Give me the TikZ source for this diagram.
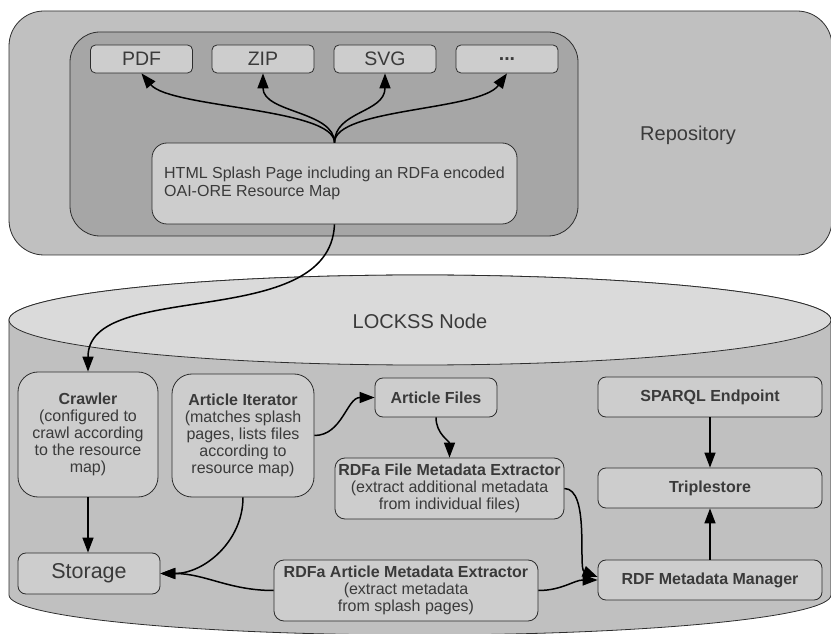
\documentclass[tikz,border=0pt]{standalone}
\usepackage{fontspec}
\setmainfont{Liberation Sans}
\usetikzlibrary{arrows.meta, positioning, calc}
\definecolor{repogray}{RGB}{192,192,192}
\definecolor{innergray}{RGB}{166,166,166}
\definecolor{boxgray}{RGB}{205,205,205}
\definecolor{lidgray}{RGB}{218,218,218}
\definecolor{edgegray}{RGB}{45,45,45}
\definecolor{textgray}{RGB}{58,58,58}
\tikzset{
  comp/.style={draw=edgegray, fill=boxgray, line width=0.8pt, rounded corners=8pt, align=center,
    text=textgray, inner sep=0pt, font=\fontsize{16}{17}\selectfont},
  fmt/.style={comp, rounded corners=5pt, minimum width=102pt, minimum height=28pt,
    font=\fontsize{19.5}{21}\selectfont},
  shell/.style={draw=edgegray, line width=0.8pt},
  flow/.style={line width=1.5pt, -{Triangle[length=15pt,width=11pt]}},
  title/.style={text=textgray, font=\fontsize{20}{22}\selectfont}
}

\begin{document}
\begin{tikzpicture}[x=1pt, y=1pt]
  \useasboundingbox (0,0) rectangle (831,633);

  % repository
  \draw[shell, fill=repogray, rounded corners=35pt] (9,378) rectangle (832,622);
  \draw[shell, fill=innergray, rounded corners=30pt] (70,397) rectangle (578,601);
  \node[title] (repolabel) at (688,498) {Repository};

  % lockss node cylinder
  \draw[shell, fill=repogray] (9,313) -- (9,38)
    arc[start angle=180, end angle=360, x radius=411, y radius=40] -- (831,313)
    arc[start angle=0, end angle=180, x radius=411, y radius=45] -- cycle;
  \draw[shell, fill=lidgray] (420,313) ellipse[x radius=411, y radius=45];
  \node[title] (lockss) at (420,312) {LOCKSS Node};

  \node[fmt] (pdf) at (141.5,574) {PDF};
  \node[fmt] (zip) at (263,574) {ZIP};
  \node[fmt] (svg) at (385,574) {SVG};
  \node[fmt] (more) at (507,574) {\textbf{...}};
  \node[comp, rounded corners=15pt, minimum width=365pt, minimum height=81pt,
    align=left, font=\fontsize{16}{18}\selectfont] (splash) at (334.5,449.5)
    {HTML Splash Page including an RDFa encoded\\OAI-ORE Resource Map};

  \node[comp, rounded corners=20pt, minimum width=140pt, minimum height=125pt] (crawler) at (88,198.5)
    {\textbf{Crawler}\\(configured to\\crawl according\\to the resource\\map)};
  \node[comp, rounded corners=20pt, minimum width=142pt, minimum height=123pt] (iterator) at (243,197.5)
    {\textbf{Article Iterator}\\(matches splash\\pages, lists files\\according to\\resource map)};
  \node[comp, minimum width=122pt, minimum height=39pt] (files) at (436,235.5) {\textbf{Article Files}};
  \node[comp, rounded corners=10pt, minimum width=229pt, minimum height=61pt] (fileext) at (449.5,144.5)
    {\textbf{RDFa File Metadata Extractor}\\(extract additional metadata\\from individual files)};
  \node[comp, rounded corners=10pt, minimum width=264pt, minimum height=61pt] (articleext) at (406,42.5)
    {\textbf{RDFa Article Metadata Extractor}\\(extract metadata\\from splash pages)};
  \node[comp, minimum width=142pt, minimum height=41pt, font=\fontsize{21.5}{23}\selectfont] (storage) at (89,59.5)
    {Storage};
  \node[comp, minimum width=224pt, minimum height=40pt] (sparql) at (710,236) {\textbf{SPARQL Endpoint}};
  \node[comp, minimum width=224pt, minimum height=40pt] (triple) at (710,145) {\textbf{Triplestore}};
  \node[comp, minimum width=224pt, minimum height=40pt] (manager) at (710,53) {\textbf{RDF Metadata Manager}};

  % connectors
  \draw[flow] (splash.north) .. controls (334.5,525) and (170,525) .. (pdf.south);
  \draw[flow] (splash.north) .. controls (334.5,522) and (263,520) .. (zip.south);
  \draw[flow] (splash.north) .. controls (334.5,522) and (385,520) .. (svg.south);
  \draw[flow] (splash.north) .. controls (334.5,525) and (480,522) .. (more.south);
  \draw[flow] (splash.south) .. controls (330,300) and (88,355) .. (crawler.north);
  \draw[flow] (iterator.east) to[out=0, in=180] (files.west);
  \draw[flow] (files.south) to[out=-90, in=90] (fileext.north);
  \draw[flow] (fileext.east) .. controls (590,144.5) and (578,64) .. ($(manager.west)+(0,3)$);
  \draw[flow] (articleext.east) to[out=0, in=180] (manager.west);
  \draw[flow] (sparql) -- (triple);
  \draw[flow] (manager) -- (triple);
  \draw[flow] (crawler.south) -- (crawler.south |- storage.north);
  \draw[flow] (iterator.south) to[out=-90, in=0] (storage.east);
  \draw[flow] (articleext.west) to[out=180, in=0] (storage.east);
\end{tikzpicture}
\end{document}
